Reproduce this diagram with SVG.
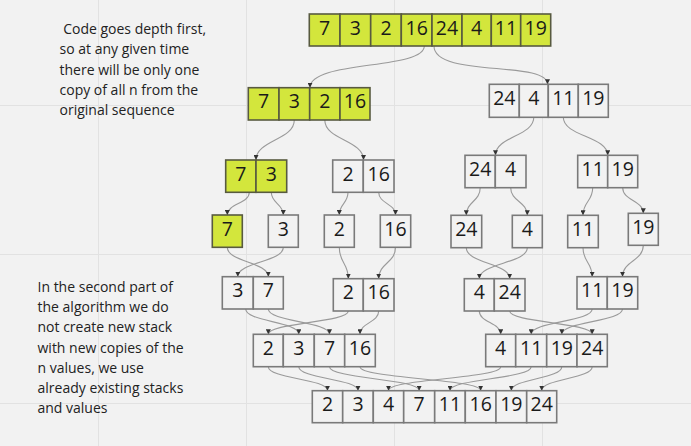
<svg xmlns="http://www.w3.org/2000/svg" width="691" height="446" viewBox="0 0 691 446">
<style>
.bg{fill:#f2f2f2}
.grid{stroke:#e2e2e2;stroke-width:1}
.c{fill:#f2f2f2;stroke:#7a7a7a;stroke-width:1.6}
.g{fill:#d3e63c;stroke:#585a40;stroke-width:1.6}
.n{font-family:"Open Sans","Noto Sans",sans-serif;font-size:19.5px;fill:#1a1a1a;text-anchor:middle}
.t{font-family:"Open Sans","Noto Sans",sans-serif;font-size:14px;fill:#222}
.e{fill:none;stroke:#9a9a9a;stroke-width:1.1}
</style>
<defs>
<marker id="ah" markerUnits="userSpaceOnUse" markerWidth="5" markerHeight="5" refX="5" refY="2.5" orient="auto">
<path d="M0,0 L5,2.5 L0,5 z" fill="#333"/>
</marker>
</defs>
<rect class="bg" x="0" y="0" width="691" height="446"/>
<g id="grid">
<line class="grid" x1="98.5" y1="0" x2="98.5" y2="446"/>
<line class="grid" x1="246.5" y1="0" x2="246.5" y2="446"/>
<line class="grid" x1="394.5" y1="0" x2="394.5" y2="446"/>
<line class="grid" x1="542.5" y1="0" x2="542.5" y2="446"/>
<line class="grid" x1="0" y1="105.5" x2="691" y2="105.5"/>
<line class="grid" x1="0" y1="254.5" x2="691" y2="254.5"/>
<line class="grid" x1="0" y1="403.5" x2="691" y2="403.5"/>
</g>
<g id="note1" class="t">
<text x="59.5" y="34" xml:space="preserve" style="white-space:pre"> Code goes depth first,</text>
<text x="59.5" y="54.3">so at any given time</text>
<text x="59.5" y="74.5">there will be only one</text>
<text x="59.5" y="94.8">copy of all n from the</text>
<text x="59.5" y="115">original sequence</text>
</g>
<g id="note2" class="t">
<text x="37.5" y="291.7">In the second part of</text>
<text x="37.5" y="312">the algorithm we do</text>
<text x="37.5" y="332.2">not create new stack</text>
<text x="37.5" y="352.5">with new copies of the</text>
<text x="37.5" y="372.8">n values, we use</text>
<text x="37.5" y="393">already existing stacks</text>
<text x="37.5" y="413.3">and values</text>
</g>
<g id="connectors" class="e" marker-end="url(#ah)">
<path d="M424.3,46 C424.3,70 310,60 310,87.7"/>
<path d="M434,46 C434,78 547.5,60 547.5,84.3"/>
<path d="M294.3,120 C294.3,140 256,140 256,160"/>
<path d="M324.8,120 C324.8,140 363.5,140 363.5,160"/>
<path d="M533.8,117.3 C533.8,136.3 495.5,136.3 495.5,155.3"/>
<path d="M563.3,117.3 C563.3,136.3 607.7,136.3 607.7,155.3"/>
<path d="M249.3,192.3 C249.3,203.6 227.3,203.6 227.3,215"/>
<path d="M271.3,192.3 C271.3,203.6 283.3,203.6 283.3,215"/>
<path d="M348,192.3 C348,203.6 339.3,203.6 339.3,215"/>
<path d="M378.7,192.3 C378.7,203.6 395.5,203.6 395.5,215"/>
<path d="M480.2,187.7 C480.2,201.5 466.3,201.5 466.3,215.3"/>
<path d="M510.7,187.7 C510.7,201.5 527.3,201.5 527.3,215.3"/>
<path d="M592.7,187.7 C592.7,201.5 583,201.5 583,215.3"/>
<path d="M622.7,187.7 C622.7,200.5 643.3,200.5 643.3,213.3"/>
<path d="M227.3,247.3 C227.3,262 268.3,262 268.3,276.7"/>
<path d="M283.3,247.3 C283.3,262 237.8,262 237.8,276.7"/>
<path d="M339.3,247.3 C339.3,263 348.3,263 348.3,278.7"/>
<path d="M395.5,247.3 C395.5,263 378.7,263 378.7,278.7"/>
<path d="M466.3,247.7 C466.3,263.2 509.7,263.2 509.7,278.7"/>
<path d="M527.3,247.7 C527.3,263.2 479.3,263.2 479.3,278.7"/>
<path d="M583,247.7 C583,262.2 592.2,262.2 592.2,276.7"/>
<path d="M643.3,245.3 C643.3,261 622.5,261 622.5,276.7"/>
<path d="M245.7,309 C245.7,321.6 298.8,321.6 298.8,334.3"/>
<path d="M268.3,309 C268.3,321.6 329.5,321.6 329.5,334.3"/>
<path d="M348.3,311 C348.3,322.6 268.3,322.6 268.3,334.3"/>
<path d="M378.7,311 C378.7,322.6 360,322.6 360,334.3"/>
<path d="M479.3,311 C479.3,322.6 500.7,322.6 500.7,334.3"/>
<path d="M509.7,311 C509.7,322.6 592.2,322.6 592.2,334.3"/>
<path d="M592.2,309 C592.2,321.6 531.2,321.6 531.2,334.3"/>
<path d="M622.5,309 C622.5,321.6 561.8,321.6 561.8,334.3"/>
<path d="M268.3,366.7 C268.3,378.7 327.5,378.7 327.5,390.7"/>
<path d="M298.8,366.7 C298.8,378.7 358,378.7 358,390.7"/>
<path d="M329.5,366.7 C329.5,378.7 419.2,378.7 419.2,390.7"/>
<path d="M360,366.7 C360,378.7 480.7,378.7 480.7,390.7"/>
<path d="M500.7,366.7 C500.7,378.7 388.5,378.7 388.5,390.7"/>
<path d="M531.2,366.7 C531.2,378.7 450,378.7 450,390.7"/>
<path d="M561.8,366.7 C561.8,378.7 511.3,378.7 511.3,390.7"/>
<path d="M592.2,366.7 C592.2,378.7 541.7,378.7 541.7,390.7"/>
</g>
<g id="n0">
<rect class="g" x="309.3" y="14" width="30.7" height="32"/><rect class="g" x="340" y="14" width="30.7" height="32"/><rect class="g" x="370.7" y="14" width="30.6" height="32"/><rect class="g" x="401.3" y="14" width="30.7" height="32"/><rect class="g" x="432" y="14" width="30" height="32"/><rect class="g" x="462" y="14" width="29.3" height="32"/><rect class="g" x="491.3" y="14" width="29.4" height="32"/><rect class="g" x="520.7" y="14" width="30" height="32"/>
<text class="n" x="324.7" y="34.7">7</text><text class="n" x="355.3" y="34.7">3</text><text class="n" x="386" y="34.7">2</text><text class="n" x="416.7" y="34.7">16</text><text class="n" x="447" y="34.7">24</text><text class="n" x="476.7" y="34.7">4</text><text class="n" x="506" y="34.7">11</text><text class="n" x="535.7" y="34.7">19</text>
</g>
<g id="n1">
<rect class="g" x="248.3" y="87.7" width="30.7" height="32.3"/><rect class="g" x="279" y="87.7" width="30.7" height="32.3"/><rect class="g" x="309.7" y="87.7" width="30.3" height="32.3"/><rect class="g" x="340" y="87.7" width="30" height="32.3"/>
<text class="n" x="263.7" y="108.4">7</text><text class="n" x="294.3" y="108.4">3</text><text class="n" x="324.8" y="108.4">2</text><text class="n" x="355" y="108.4">16</text>
</g>
<g id="n2">
<rect class="c" x="489.3" y="84.3" width="30" height="33"/><rect class="c" x="519.3" y="84.3" width="29" height="33"/><rect class="c" x="548.3" y="84.3" width="30" height="33"/><rect class="c" x="578.3" y="84.3" width="30" height="33"/>
<text class="n" x="504.3" y="105">24</text><text class="n" x="533.8" y="105">4</text><text class="n" x="563.3" y="105">11</text><text class="n" x="593.3" y="105">19</text>
</g>
<g id="n3">
<rect class="g" x="225.7" y="160" width="30.3" height="32.3"/><rect class="g" x="256" y="160" width="30.7" height="32.3"/>
<text class="n" x="240.8" y="180.7">7</text><text class="n" x="271.3" y="180.7">3</text>
</g>
<g id="n4">
<rect class="c" x="332.7" y="160" width="30.6" height="32.3"/><rect class="c" x="363.3" y="160" width="30.7" height="32.3"/>
<text class="n" x="348" y="180.7">2</text><text class="n" x="378.7" y="180.7">16</text>
</g>
<g id="n5">
<rect class="c" x="465" y="155.3" width="30.3" height="32.4"/><rect class="c" x="495.3" y="155.3" width="30.7" height="32.4"/>
<text class="n" x="480.2" y="176">24</text><text class="n" x="510.7" y="176">4</text>
</g>
<g id="n6">
<rect class="c" x="577.7" y="155.3" width="30" height="32.4"/><rect class="c" x="607.7" y="155.3" width="30" height="32.4"/>
<text class="n" x="592.7" y="176">11</text><text class="n" x="622.7" y="176">19</text>
</g>
<g id="n7"><rect class="g" x="212.3" y="215" width="30" height="32.3"/><text class="n" x="227.3" y="235.7">7</text></g>
<g id="n8"><rect class="c" x="268.3" y="215" width="30" height="32.3"/><text class="n" x="283.3" y="235.7">3</text></g>
<g id="n9"><rect class="c" x="324.3" y="215" width="30" height="32.3"/><text class="n" x="339.3" y="235.7">2</text></g>
<g id="n10"><rect class="c" x="380.3" y="215" width="30.4" height="32.3"/><text class="n" x="395.5" y="235.7">16</text></g>
<g id="n11"><rect class="c" x="451" y="215.3" width="30.7" height="32.4"/><text class="n" x="466.3" y="236">24</text></g>
<g id="n12"><rect class="c" x="512.3" y="215.3" width="30" height="32.4"/><text class="n" x="527.3" y="236">4</text></g>
<g id="n13"><rect class="c" x="567.7" y="215.3" width="30.6" height="32.4"/><text class="n" x="583" y="236">11</text></g>
<g id="n14"><rect class="c" x="628.3" y="213.3" width="30" height="32"/><text class="n" x="643.3" y="234">19</text></g>
<g id="n15">
<rect class="c" x="222.3" y="276.7" width="31" height="32.3"/><rect class="c" x="253.3" y="276.7" width="30" height="32.3"/>
<text class="n" x="237.8" y="297.4">3</text><text class="n" x="268.3" y="297.4">7</text>
</g>
<g id="n16">
<rect class="c" x="333.3" y="278.7" width="30" height="32.3"/><rect class="c" x="363.3" y="278.7" width="30.7" height="32.3"/>
<text class="n" x="348.3" y="299.4">2</text><text class="n" x="378.7" y="299.4">16</text>
</g>
<g id="n17">
<rect class="c" x="464.3" y="278.7" width="30" height="32.3"/><rect class="c" x="494.3" y="278.7" width="30.7" height="32.3"/>
<text class="n" x="479.3" y="299.4">4</text><text class="n" x="509.7" y="299.4">24</text>
</g>
<g id="n18">
<rect class="c" x="577" y="276.7" width="30.3" height="32.3"/><rect class="c" x="607.3" y="276.7" width="30.4" height="32.3"/>
<text class="n" x="592.2" y="297.4">11</text><text class="n" x="622.5" y="297.4">19</text>
</g>
<g id="n19">
<rect class="c" x="253.3" y="334.3" width="30" height="32.4"/><rect class="c" x="283.3" y="334.3" width="31" height="32.4"/><rect class="c" x="314.3" y="334.3" width="30.4" height="32.4"/><rect class="c" x="344.7" y="334.3" width="30.6" height="32.4"/>
<text class="n" x="268.3" y="355">2</text><text class="n" x="298.8" y="355">3</text><text class="n" x="329.5" y="355">7</text><text class="n" x="360" y="355">16</text>
</g>
<g id="n20">
<rect class="c" x="485.7" y="334.3" width="30" height="32.4"/><rect class="c" x="515.7" y="334.3" width="31" height="32.4"/><rect class="c" x="546.7" y="334.3" width="30.3" height="32.4"/><rect class="c" x="577" y="334.3" width="30.3" height="32.4"/>
<text class="n" x="500.7" y="355">4</text><text class="n" x="531.2" y="355">11</text><text class="n" x="561.8" y="355">19</text><text class="n" x="592.2" y="355">24</text>
</g>
<g id="n21">
<rect class="c" x="312.3" y="390.7" width="30.4" height="32"/><rect class="c" x="342.7" y="390.7" width="30.6" height="32"/><rect class="c" x="373.3" y="390.7" width="30.4" height="32"/><rect class="c" x="403.7" y="390.7" width="31" height="32"/><rect class="c" x="434.7" y="390.7" width="30.6" height="32"/><rect class="c" x="465.3" y="390.7" width="30.7" height="32"/><rect class="c" x="496" y="390.7" width="30.7" height="32"/><rect class="c" x="526.7" y="390.7" width="30" height="32"/>
<text class="n" x="327.5" y="411.4">2</text><text class="n" x="358" y="411.4">3</text><text class="n" x="388.5" y="411.4">4</text><text class="n" x="419.2" y="411.4">7</text><text class="n" x="450" y="411.4">11</text><text class="n" x="480.7" y="411.4">16</text><text class="n" x="511.3" y="411.4">19</text><text class="n" x="541.7" y="411.4">24</text>
</g>
</svg>
